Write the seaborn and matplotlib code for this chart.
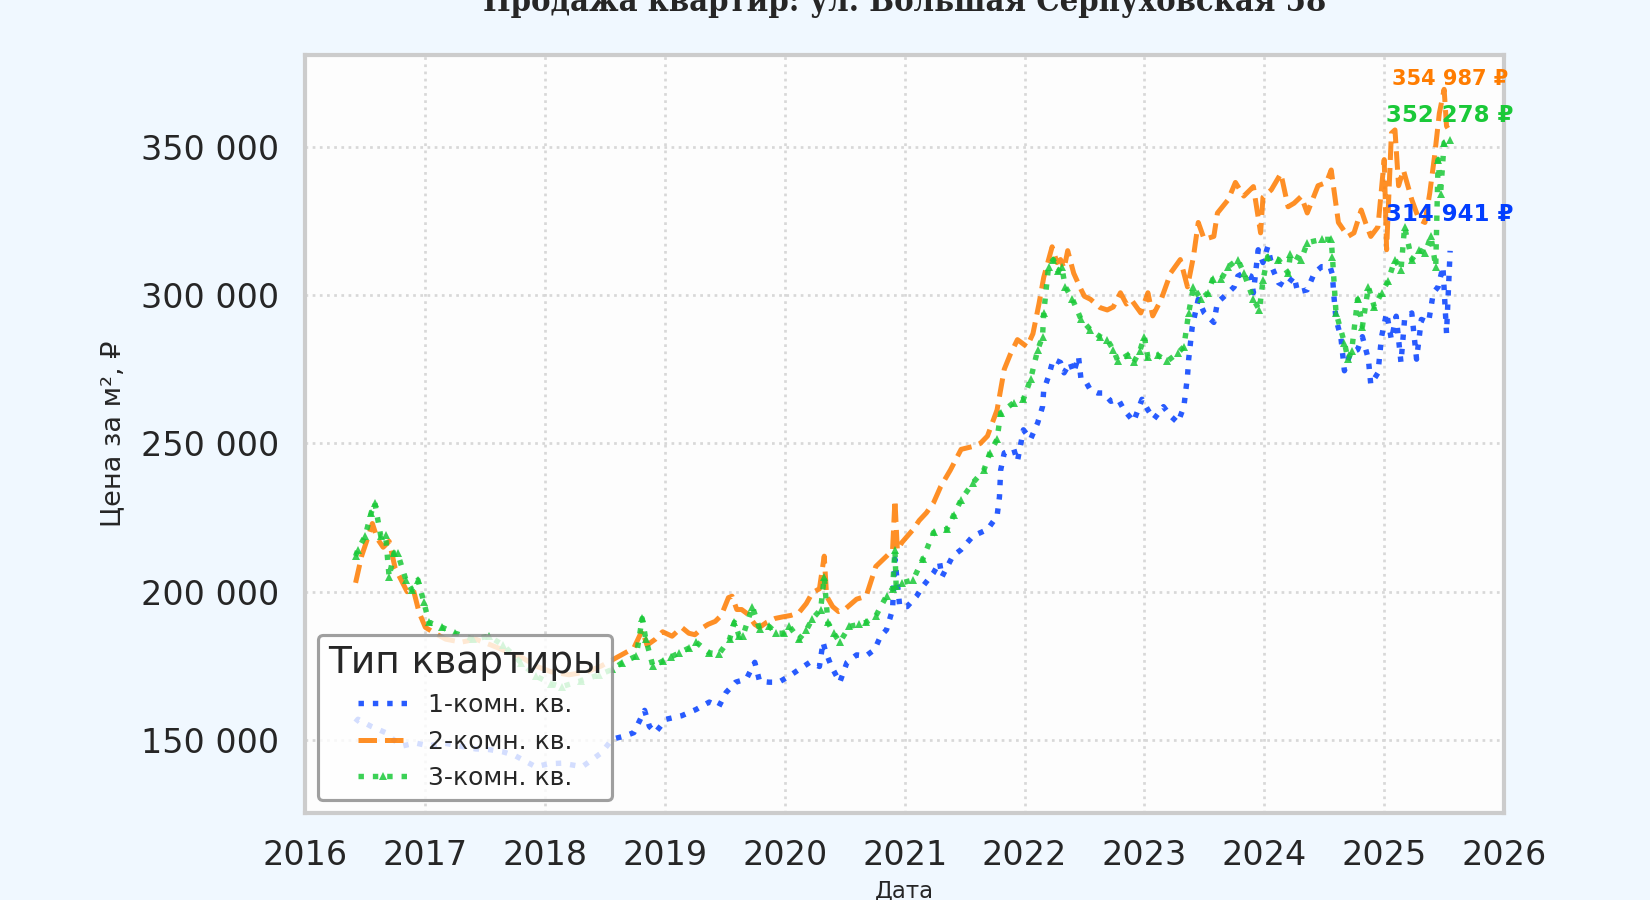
import numpy as np
import pandas as pd
import matplotlib
matplotlib.use("Agg")
import matplotlib.pyplot as plt
import matplotlib.dates as mdates
import matplotlib.ticker as mticker
import seaborn as sns

# ---------------- data (price per m², thousand RUB) ----------------
room1_years = [2016.42, 2016.44, 2016.55, 2016.67, 2016.80, 2016.92, 2017.03, 2017.15, 2017.30, 2017.42,
               2017.53, 2017.65, 2017.75, 2017.92, 2018.03, 2018.14, 2018.31, 2018.47, 2018.56, 2018.67,
               2018.74, 2018.83, 2018.87, 2018.92, 2019.01, 2019.14, 2019.26, 2019.37, 2019.45, 2019.51,
               2019.59, 2019.68, 2019.75, 2019.79, 2019.87, 2019.95, 2020.04, 2020.12, 2020.21, 2020.29,
               2020.32, 2020.34, 2020.39, 2020.46, 2020.52, 2020.60, 2020.68, 2020.75, 2020.80, 2020.85,
               2020.90, 2020.92, 2020.96, 2021.02, 2021.10, 2021.15, 2021.24, 2021.29, 2021.31, 2021.40,
               2021.47, 2021.57, 2021.69, 2021.77, 2021.79, 2021.80, 2021.83, 2021.91, 2021.94, 2021.99,
               2022.05, 2022.11, 2022.15, 2022.16, 2022.20, 2022.24, 2022.30, 2022.33, 2022.38, 2022.41,
               2022.45, 2022.47, 2022.50, 2022.55, 2022.61, 2022.66, 2022.72, 2022.78, 2022.83, 2022.91,
               2022.98, 2023.03, 2023.08, 2023.16, 2023.22, 2023.28, 2023.33, 2023.36, 2023.37, 2023.40,
               2023.45, 2023.50, 2023.58, 2023.61, 2023.70, 2023.75, 2023.78, 2023.83, 2023.89, 2023.91,
               2023.95, 2023.99, 2024.03, 2024.07, 2024.12, 2024.18, 2024.25, 2024.28, 2024.36, 2024.42,
               2024.48, 2024.55, 2024.57, 2024.58, 2024.60, 2024.64, 2024.67, 2024.72, 2024.78, 2024.82,
               2024.87, 2024.89, 2024.95, 2024.98, 2025.02, 2025.06, 2025.10, 2025.14, 2025.17, 2025.23,
               2025.27, 2025.31, 2025.37, 2025.41, 2025.45, 2025.49, 2025.52, 2025.55]
room1_k = [156.0, 157.0, 154.6, 152.5, 147.9, 149.0, 148.0, 149.0, 147.9, 147.0,
           146.8, 146.0, 144.7, 141.0, 142.0, 142.2, 141.0, 145.7, 150.3, 151.4,
           152.5, 160.0, 154.6, 152.5, 157.0, 158.2, 160.3, 162.8, 161.3, 166.0,
           169.5, 170.6, 176.2, 169.8, 169.5, 169.5, 171.6, 173.8, 176.2, 174.8,
           183.0, 180.0, 174.8, 169.5, 176.2, 178.7, 178.4, 180.5, 185.0, 187.2,
           194.0, 211.0, 195.0, 195.0, 198.6, 201.8, 206.4, 210.0, 205.0, 212.0,
           214.2, 218.8, 221.0, 225.5, 232.0, 241.0, 246.8, 248.0, 244.0, 254.6,
           251.4, 257.0, 262.4, 268.0, 272.6, 278.4, 277.3, 273.8, 277.3, 273.8,
           279.4, 272.0, 271.6, 268.0, 267.0, 267.0, 264.2, 265.0, 261.3, 257.4,
           264.9, 261.3, 258.2, 262.4, 259.2, 257.0, 262.4, 272.6, 278.4, 289.4,
           298.6, 294.0, 290.8, 297.5, 300.8, 302.8, 306.4, 307.5, 306.4, 300.8,
           315.3, 311.0, 316.3, 309.0, 304.2, 302.8, 306.4, 301.0, 301.8, 307.5,
           309.6, 309.6, 307.0, 300.8, 291.8, 286.0, 274.5, 280.5, 281.6, 286.0,
           278.4, 269.9, 273.8, 286.0, 294.0, 285.0, 292.9, 277.3, 291.8, 294.0,
           278.4, 291.8, 290.8, 300.8, 302.8, 309.6, 287.2, 314.941]

room2_years = [2016.42, 2016.47, 2016.52, 2016.56, 2016.60, 2016.65, 2016.70, 2016.75, 2016.80, 2016.85,
               2016.90, 2016.95, 2017.00, 2017.08, 2017.17, 2017.30, 2017.42, 2017.55, 2017.67, 2017.80,
               2017.92, 2018.05, 2018.20, 2018.35, 2018.47, 2018.56, 2018.65, 2018.74, 2018.81, 2018.85,
               2018.92, 2018.98, 2019.06, 2019.14, 2019.20, 2019.25, 2019.32, 2019.36, 2019.42, 2019.47,
               2019.53, 2019.56, 2019.60, 2019.64, 2019.69, 2019.75, 2019.79, 2019.85, 2019.92, 2019.98,
               2020.05, 2020.12, 2020.18, 2020.23, 2020.29, 2020.33, 2020.35, 2020.40, 2020.45, 2020.50,
               2020.60, 2020.68, 2020.76, 2020.85, 2020.90, 2020.92, 2020.94, 2020.98, 2021.07, 2021.12,
               2021.18, 2021.24, 2021.30, 2021.38, 2021.47, 2021.57, 2021.63, 2021.69, 2021.77, 2021.83,
               2021.88, 2021.94, 2022.02, 2022.07, 2022.12, 2022.16, 2022.23, 2022.27, 2022.30, 2022.33,
               2022.36, 2022.41, 2022.47, 2022.50, 2022.55, 2022.63, 2022.69, 2022.74, 2022.80, 2022.85,
               2022.89, 2022.97, 2023.03, 2023.07, 2023.14, 2023.22, 2023.30, 2023.36, 2023.41, 2023.45,
               2023.50, 2023.58, 2023.61, 2023.70, 2023.76, 2023.83, 2023.91, 2023.97, 2023.99, 2024.06,
               2024.14, 2024.20, 2024.25, 2024.31, 2024.36, 2024.45, 2024.52, 2024.56, 2024.62, 2024.70,
               2024.75, 2024.81, 2024.85, 2024.89, 2024.95, 2025.00, 2025.02, 2025.06, 2025.09, 2025.12,
               2025.16, 2025.23, 2025.29, 2025.34, 2025.38, 2025.42, 2025.46, 2025.50, 2025.52, 2025.55]
room2_k = [203.0, 212.0, 218.0, 223.0, 218.0, 215.0, 217.0, 208.0, 204.0, 200.0,
           201.0, 193.0, 188.0, 186.0, 184.0, 183.0, 184.0, 182.0, 180.0, 178.0,
           175.0, 173.0, 172.0, 173.0, 175.0, 177.0, 179.0, 181.0, 187.0, 182.0,
           184.0, 186.5, 185.0, 188.0, 186.0, 185.5, 188.0, 189.0, 190.0, 192.0,
           198.0, 198.5, 194.0, 194.0, 192.5, 189.0, 188.0, 189.7, 191.0, 191.5,
           192.0, 193.0, 196.0, 199.6, 201.0, 212.0, 198.5, 195.0, 193.3, 194.0,
           197.5, 198.5, 208.5, 212.0, 214.0, 231.0, 214.0, 216.7, 221.0, 224.0,
           226.6, 230.0, 235.5, 241.0, 248.0, 249.0, 250.0, 252.5, 261.3, 275.0,
           280.0, 285.0, 282.6, 287.0, 297.0, 306.0, 316.3, 311.0, 312.0, 309.0,
           315.0, 307.4, 302.0, 299.6, 298.6, 295.8, 295.0, 296.0, 300.8, 297.0,
           298.5, 294.0, 300.8, 293.0, 298.5, 307.5, 312.0, 302.8, 313.0, 324.5,
           318.8, 319.8, 327.7, 332.2, 338.0, 333.4, 336.6, 321.0, 333.0, 335.5,
           341.0, 329.8, 331.0, 333.3, 327.7, 336.9, 338.0, 342.2, 324.5, 319.8,
           321.0, 328.7, 324.0, 319.8, 323.0, 345.7, 315.3, 354.6, 355.7, 336.9,
           342.2, 332.2, 325.5, 324.5, 334.4, 346.8, 361.3, 369.4, 357.0, 354.987]

room3_years = [2016.42, 2016.44, 2016.50, 2016.55, 2016.58, 2016.63, 2016.67, 2016.70, 2016.74, 2016.77,
               2016.84, 2016.89, 2016.94, 2016.99, 2017.03, 2017.14, 2017.25, 2017.40, 2017.53, 2017.65,
               2017.80, 2017.92, 2018.05, 2018.14, 2018.30, 2018.45, 2018.56, 2018.64, 2018.76, 2018.81,
               2018.84, 2018.90, 2018.98, 2019.05, 2019.12, 2019.20, 2019.26, 2019.37, 2019.45, 2019.54,
               2019.58, 2019.62, 2019.65, 2019.73, 2019.79, 2019.87, 2019.93, 2019.99, 2020.04, 2020.12,
               2020.18, 2020.23, 2020.30, 2020.33, 2020.36, 2020.41, 2020.46, 2020.54, 2020.62, 2020.68,
               2020.76, 2020.85, 2020.90, 2020.92, 2020.93, 2020.98, 2021.07, 2021.15, 2021.24, 2021.35,
               2021.41, 2021.47, 2021.57, 2021.66, 2021.71, 2021.77, 2021.80, 2021.91, 2021.99, 2022.05,
               2022.11, 2022.15, 2022.16, 2022.20, 2022.24, 2022.28, 2022.31, 2022.34, 2022.40, 2022.47,
               2022.55, 2022.63, 2022.69, 2022.74, 2022.78, 2022.86, 2022.91, 2022.96, 2023.00, 2023.03,
               2023.11, 2023.19, 2023.28, 2023.33, 2023.37, 2023.41, 2023.47, 2023.53, 2023.57, 2023.64,
               2023.70, 2023.78, 2023.83, 2023.91, 2023.96, 2023.99, 2024.03, 2024.12, 2024.20, 2024.22,
               2024.31, 2024.36, 2024.48, 2024.56, 2024.57, 2024.60, 2024.67, 2024.70, 2024.73, 2024.78,
               2024.82, 2024.87, 2024.92, 2024.98, 2025.03, 2025.09, 2025.14, 2025.17, 2025.23, 2025.29,
               2025.34, 2025.39, 2025.43, 2025.45, 2025.47, 2025.50, 2025.55]
room3_k = [212.0, 214.2, 218.8, 226.6, 230.0, 218.8, 219.0, 205.0, 213.0, 213.0,
           204.0, 200.7, 204.0, 196.4, 189.7, 188.0, 186.0, 184.0, 185.0, 182.0,
           176.0, 171.6, 169.0, 168.0, 170.0, 172.0, 173.8, 176.0, 178.3, 191.0,
           184.0, 174.8, 176.6, 178.0, 179.4, 181.0, 183.0, 179.4, 179.0, 184.0,
           189.7, 185.0, 185.0, 195.0, 187.5, 188.3, 186.0, 186.0, 188.3, 184.0,
           187.0, 190.8, 194.0, 205.0, 189.7, 186.0, 183.0, 188.3, 189.0, 189.7,
           191.8, 198.6, 201.0, 214.0, 202.0, 203.0, 204.0, 211.0, 220.0, 221.0,
           226.0, 231.0, 236.8, 241.0, 246.8, 251.4, 260.3, 263.8, 264.9, 271.6,
           281.6, 286.0, 294.0, 309.6, 312.0, 308.0, 309.6, 302.8, 298.6, 292.0,
           288.3, 286.0, 285.0, 281.6, 277.7, 279.8, 277.3, 281.0, 286.0, 279.0,
           279.8, 277.7, 280.5, 282.6, 294.0, 302.8, 298.6, 300.7, 305.3, 305.3,
           309.6, 312.0, 307.5, 298.6, 295.0, 305.0, 313.0, 312.0, 307.5, 314.0,
           312.0, 317.7, 318.8, 318.8, 313.0, 294.0, 284.0, 278.4, 281.0, 298.6,
           289.4, 302.8, 296.0, 300.8, 304.6, 312.0, 308.5, 323.0, 312.0, 315.3,
           314.2, 319.8, 309.6, 345.7, 334.0, 351.4, 352.278]

series_names = ["1-комн. кв.", "2-комн. кв.", "3-комн. кв."]
last_labels = [314941, 354987, 352278]
y_ticks = [150000, 200000, 250000, 300000, 350000]
title_text = "Продажа квартир: ул. Большая Серпуховская 58"


def to_dates(years):
    out = []
    for y in years:
        yr = int(y)
        out.append(pd.Timestamp(year=yr, month=1, day=1) + pd.Timedelta(days=(y - yr) * 365.25))
    return out


frames = []
for name, yrs, vals in [(series_names[0], room1_years, room1_k),
                        (series_names[1], room2_years, room2_k),
                        (series_names[2], room3_years, room3_k)]:
    frames.append(pd.DataFrame({"Дата": to_dates(yrs),
                                "Цена": np.array(vals) * 1000.0,
                                "Тип": name}))
df = pd.concat(frames, ignore_index=True)

# ---------------- style ----------------
sns.set_theme(context="talk", style="whitegrid")
plt.rcParams["font.family"] = ["DejaVu Sans"]

palette = sns.color_palette("bright")
colors = [palette[0], palette[1], palette[2]]
styles = [dict(linestyle=":", linewidth=2.6, marker=None),
          dict(linestyle="--", linewidth=2.4, marker=None),
          dict(linestyle=":", linewidth=2.6, marker="^", markersize=3.8, markeredgewidth=0)]
offsets = [17.6, 25.7, 11.9]
label_sizes = [11, 10, 11]

fig, ax = plt.subplots(figsize=(11, 6), dpi=150)
fig.patch.set_facecolor("#f0f8ff")
ax.set_facecolor("#fdfdfd")
fig.subplots_adjust(left=0.185, right=0.9115, top=0.939, bottom=0.097)

for name, col, st in zip(series_names, colors, styles):
    sub = df[df["Тип"] == name]
    sns.lineplot(data=sub, x="Дата", y="Цена", ax=ax, color=col, alpha=0.85,
                 label=name, estimator=None, **st)

for name, col, lab, off, fs in zip(series_names, colors, last_labels, offsets, label_sizes):
    sub = df[df["Тип"] == name]
    ax.annotate(f"{lab:,}".replace(",", " ") + " ₽",
                xy=(sub["Дата"].iloc[-1], sub["Цена"].iloc[-1]),
                xytext=(0, off), textcoords="offset points",
                ha="center", va="center", fontsize=fs, fontweight="bold", color=col)

ax.set_xlim(pd.Timestamp("2016-01-01"), pd.Timestamp("2026-01-01"))
ax.set_ylim(125500, 381000)
ax.set_yticks(y_ticks)
ax.yaxis.set_major_formatter(mticker.FuncFormatter(lambda v, p: f"{int(v):,}".replace(",", " ")))
ax.xaxis.set_major_locator(mdates.YearLocator())
ax.xaxis.set_major_formatter(mdates.DateFormatter("%Y"))
ax.tick_params(axis="both", labelsize=16)

ax.grid(True, linestyle=":", color="#d8d8d8", linewidth=1.3)
for s in ax.spines.values():
    s.set_color("#cccccc")
    s.set_linewidth(2.0)

ax.set_xlabel("Дата", fontsize=11)
ax.set_ylabel("Цена за м², ₽", fontsize=13, labelpad=7)
ax.set_title(title_text, fontsize=15.6, fontweight="bold", fontstretch="condensed",
             family=["DejaVu Serif Condensed", "DejaVu Serif"], pad=21)

leg = ax.legend(title="Тип квартиры", loc="lower left", fontsize=12, title_fontsize=18,
                frameon=True, facecolor="white", edgecolor="#888888", framealpha=0.8)
leg.get_frame().set_linewidth(1.5)

fig.savefig("out.png", dpi=150, facecolor=fig.get_facecolor())
